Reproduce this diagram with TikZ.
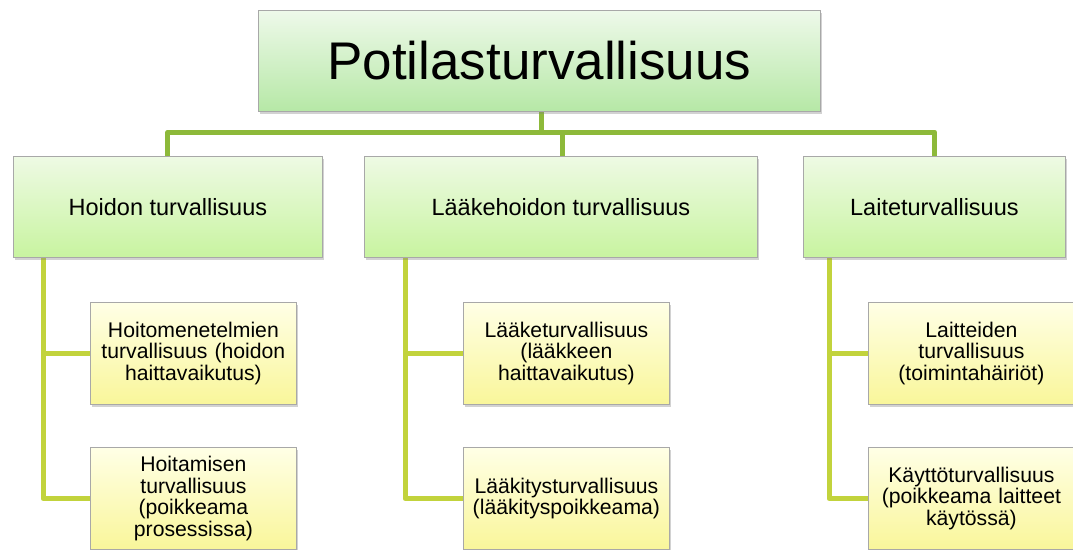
\documentclass[tikz,border=0pt]{standalone}
\usepackage{fontspec}
\setmainfont{Liberation Sans}
\usetikzlibrary{shadows}
\pgfdeclarelayer{bg}
\pgfsetlayers{bg,main}
\definecolor{conA}{HTML}{8DB93A}
\definecolor{conB}{HTML}{C2D33C}
\definecolor{topT}{HTML}{EEF9EA}
\definecolor{topB}{HTML}{B6E8A6}
\definecolor{midT}{HTML}{EEFAE4}
\definecolor{midB}{HTML}{C8F4A0}
\definecolor{lowT}{HTML}{FFFFE6}
\definecolor{lowB}{HTML}{F9F69A}
\definecolor{edge}{HTML}{A8A8A8}
\tikzset{
  boxbase/.style={draw=edge, line width=0.8pt, anchor=north west, align=center, inner sep=2pt,
    drop shadow={opacity=0.35, shadow xshift=1.5pt, shadow yshift=-3pt}},
  topbox/.style={boxbase, top color=topT, bottom color=topB, font=\fontsize{53}{60}\selectfont},
  midbox/.style={boxbase, top color=midT, bottom color=midB, font=\fontsize{23.5}{27}\selectfont},
  lowbox/.style={boxbase, top color=lowT, bottom color=lowB, font=\fontsize{21.2}{21.7}\selectfont,
    minimum width=206pt, text width=200pt, minimum height=102pt},
  conone/.style={draw=conA, line width=5pt, line join=round},
  contwo/.style={draw=conB, line width=5pt, line join=round},
}
\begin{document}
\begin{tikzpicture}[x=1pt, y=-1pt]
\useasboundingbox (0,0) rectangle (1073,549);
\clip (0,0) rectangle (1073,549);

\coordinate (bus) at (0,132);
\coordinate (xa) at (43,0);
\coordinate (xb) at (405,0);
\coordinate (xc) at (829,0);

\path (258,10) node[topbox, minimum width=562pt, minimum height=101pt] (top) {Potilasturvallisuus};
\path (13,156) node[midbox, minimum width=309pt, minimum height=101pt] (l2a) {Hoidon turvallisuus};
\path (364,156) node[midbox, minimum width=393pt, minimum height=101pt] (l2b) {Lääkehoidon turvallisuus};
\path (803,156) node[midbox, minimum width=262pt, minimum height=101pt] (l2c) {Laiteturvallisuus};

\path (90,302) node[lowbox] (l3a1) {Hoitomenetelmien\\turvallisuus (hoidon\\haittavaikutus)};
\path (90,447) node[lowbox] (l3a2) {Hoitamisen\\turvallisuus\\(poikkeama\\prosessissa)};
\path (463,302) node[lowbox] (l3b1) {Lääketurvallisuus\\(lääkkeen\\haittavaikutus)};
\path (463,447) node[lowbox] (l3b2) {Lääkitysturvallisuus\\(lääkityspoikkeama)};
\path (868,302) node[lowbox] (l3c1) {Laitteiden\\turvallisuus\\(toimintahäiriöt)};
\path (868,447) node[lowbox] (l3c2) {Käyttöturvallisuus\\(poikkeama laitteet\\käytössä)};

\begin{pgfonlayer}{bg}
\fill[white] (0,0) rectangle (1073,549);
\draw[conone] ([xshift=2pt]top.south) -- ([xshift=2pt]top.south |- bus);
\draw[conone] (l2a.north) -- (l2a.north |- bus) -- (l2c.north |- bus) -- (l2c.north);
\draw[conone] ([xshift=2pt]l2b.north) -- ([xshift=2pt]l2b.north |- bus);

\draw[contwo] (xa |- l2a.south) |- (l3a2.west);
\draw[contwo] (xa |- l3a1.west) -- (l3a1.west);
\draw[contwo] (xb |- l2b.south) |- (l3b2.west);
\draw[contwo] (xb |- l3b1.west) -- (l3b1.west);
\draw[contwo] (xc |- l2c.south) |- (l3c2.west);
\draw[contwo] (xc |- l3c1.west) -- (l3c1.west);
\end{pgfonlayer}
\end{tikzpicture}
\end{document}
